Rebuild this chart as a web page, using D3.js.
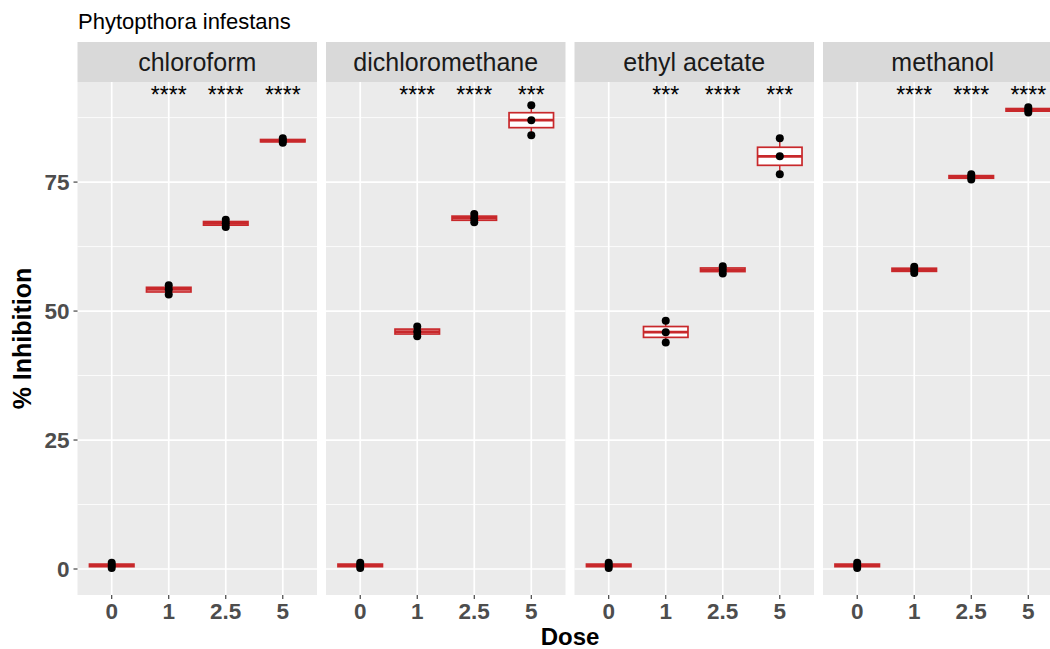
<!DOCTYPE html>
<html><head><meta charset="utf-8">
<script src="https://cdn.jsdelivr.net/npm/d3@7"></script>
<style>body{margin:0;background:#fff;overflow:hidden}svg{display:block}</style>
</head><body><svg id="c" width="1050" height="649"></svg>
<script>
const solvents = ["chloroform","dichloromethane","ethyl acetate","methanol"];
const doses = ["0","1","2.5","5"];
const yTicks = [0,25,50,75];
// replicate values per solvent, per dose
const chloroform = [[0.2,0.7,1.2],[53.2,54.2,55.0],[66.3,67.0,67.7],[82.6,83.0,83.5]];
const dichloromethane = [[0.2,0.7,1.2],[45.1,46.0,47.0],[67.2,68.0,68.8],[84.1,87.0,89.9]];
const ethylAcetate = [[0.2,0.7,1.2],[43.9,45.9,48.1],[57.3,58.0,58.7],[76.5,80.0,83.5]];
const methanol = [[0.2,0.7,1.2],[57.4,58.0,58.6],[75.5,76.0,76.5],[88.5,89.0,89.5]];
const signif = [["","****","****","****"],["","****","****","***"],["","***","****","***"],["","****","****","****"]];
const allData = [chloroform, dichloromethane, ethylAcetate, methanol];

const svg = d3.select("#c");
const panelW = 239.5, panelStep = 248.5, left0 = 77.5;
const pTop = 82, pBottom = 595, stripTop = 42;
const y = d3.scaleLinear().domain([-5.04, 94.4]).range([pBottom, pTop]);
const FF = "Liberation Sans, Arial, sans-serif";

svg.append("text").attr("x",78).attr("y",29).attr("font-family",FF)
  .attr("font-size",22).attr("fill","#000").text("Phytopthora infestans");

function q(arr,p){const s=arr.slice().sort(d3.ascending);return d3.quantile(s,p);}

solvents.forEach((sol,i)=>{
  const x0 = left0 + i*panelStep;
  const xp = d3.scalePoint().domain(doses).range([x0,x0+panelW]).padding(0.6);
  const step = xp.step();
  const g = svg.append("g");
  g.append("rect").attr("x",x0).attr("y",stripTop).attr("width",panelW).attr("height",pTop-stripTop).attr("fill","#D9D9D9");
  g.append("text").attr("x",x0+panelW/2).attr("y",(stripTop+pTop)/2+9).attr("text-anchor","middle")
    .attr("font-family",FF).attr("font-size",25).attr("fill","#1A1A1A").text(sol);
  g.append("rect").attr("x",x0).attr("y",pTop).attr("width",panelW).attr("height",pBottom-pTop).attr("fill","#EBEBEB");
  [12.5,37.5,62.5,87.5].forEach(v=>{
    g.append("line").attr("x1",x0).attr("x2",x0+panelW).attr("y1",y(v)).attr("y2",y(v)).attr("stroke","#fff").attr("stroke-width",0.8);
  });
  yTicks.forEach(v=>{
    g.append("line").attr("x1",x0).attr("x2",x0+panelW).attr("y1",y(v)).attr("y2",y(v)).attr("stroke","#fff").attr("stroke-width",1.7);
  });
  doses.forEach(d=>{
    g.append("line").attr("x1",xp(d)).attr("x2",xp(d)).attr("y1",pTop).attr("y2",pBottom).attr("stroke","#fff").attr("stroke-width",1.7);
  });
  const data = allData[i];
  const bw = step*0.78;
  doses.forEach((d,j)=>{
    const vals = data[j];
    const q1=q(vals,0.25), med=q(vals,0.5), q3=q(vals,0.75), mn=d3.min(vals), mx=d3.max(vals);
    const cx = xp(d);
    g.append("line").attr("x1",cx).attr("x2",cx).attr("y1",y(mx)).attr("y2",y(q3)).attr("stroke","#C8282B").attr("stroke-width",1.5);
    g.append("line").attr("x1",cx).attr("x2",cx).attr("y1",y(q1)).attr("y2",y(mn)).attr("stroke","#C8282B").attr("stroke-width",1.5);
    g.append("rect").attr("x",cx-bw/2).attr("y",y(q3)).attr("width",bw).attr("height",Math.max(0.01,y(q1)-y(q3)))
      .attr("fill","#fff").attr("stroke","#C8282B").attr("stroke-width",1.7);
    g.append("line").attr("x1",cx-bw/2).attr("x2",cx+bw/2).attr("y1",y(med)).attr("y2",y(med)).attr("stroke","#C8282B").attr("stroke-width",2.8);
    vals.forEach(v=>{
      g.append("circle").attr("cx",cx).attr("cy",y(v)).attr("r",4).attr("fill","#000");
    });
    g.append("text").attr("x",cx).attr("y",y(92.2)+10).attr("text-anchor","middle")
      .attr("font-family",FF).attr("font-size",23).attr("fill","#000").text(signif[i][j]);
  });
  doses.forEach(d=>{
    g.append("line").attr("x1",xp(d)).attr("x2",xp(d)).attr("y1",pBottom).attr("y2",pBottom+4).attr("stroke","#333").attr("stroke-width",1.1);
    g.append("text").attr("x",xp(d)).attr("y",pBottom+24).attr("text-anchor","middle")
      .attr("font-family",FF).attr("font-weight","bold").attr("font-size",22.5).attr("fill","#4D4D4D").text(d);
  });
});
yTicks.forEach(v=>{
  svg.append("line").attr("x1",left0-4).attr("x2",left0).attr("y1",y(v)).attr("y2",y(v)).attr("stroke","#333").attr("stroke-width",1.1);
  svg.append("text").attr("x",left0-8).attr("y",y(v)+8).attr("text-anchor","end")
    .attr("font-family",FF).attr("font-weight","bold").attr("font-size",22.5).attr("fill","#4D4D4D").text(v);
});
svg.append("text").attr("transform",`translate(31,${(pTop+pBottom)/2}) rotate(-90)`).attr("text-anchor","middle")
  .attr("font-family",FF).attr("font-weight","bold").attr("font-size",25).attr("fill","#000").text("% Inhibition");
svg.append("text").attr("x",570).attr("y",645).attr("text-anchor","middle")
  .attr("font-family",FF).attr("font-weight","bold").attr("font-size",24).attr("fill","#000").text("Dose");
</script></body></html>
